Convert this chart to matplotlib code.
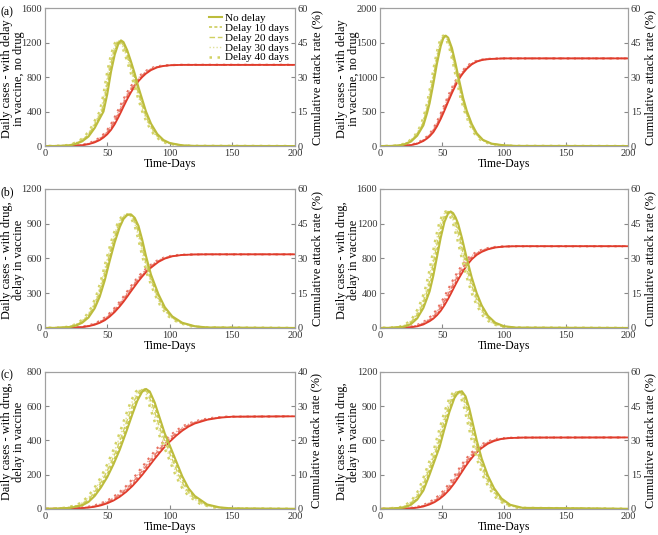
import numpy as np
import matplotlib
matplotlib.use('Agg')
import matplotlib.pyplot as plt

plt.rcParams['font.family'] = ['Liberation Serif', 'DejaVu Serif']
plt.rcParams['font.size'] = 8.5

delay_labels = ['No delay', 'Delay 10 days', 'Delay 20 days', 'Delay 30 days', 'Delay 40 days']

# (a) left: delay in vaccine, no drug
days_a1 = [0, 10, 20, 25, 30, 35, 40, 44, 47, 50, 53, 56, 59, 61, 63, 66, 69, 72, 75, 78, 81, 85, 90, 95, 100, 110, 120, 200]
daily_a1 = [0, 1, 8, 25, 55, 110, 210, 320, 400, 600, 860, 1060, 1190, 1225, 1205, 1110, 980, 840, 680, 540, 400, 260, 140, 70, 35, 8, 2, 0]
cum_a1 = [0, 0, 0.05, 0.15, 0.35, 0.8, 1.6, 2.6, 3.7, 5.1, 7.0, 9.5, 12.6, 14.8, 17.1, 20.4, 23.4, 26.0, 28.2, 30.0, 31.5, 33.0, 34.2, 34.8, 35.1, 35.3, 35.3, 35.3]
shift_a1 = [0, -0.8, -1.5, -2.3, -3]

# (a) right
days_a2 = [0, 10, 15, 20, 25, 30, 35, 38, 40, 43, 46, 49, 51, 53, 55, 58, 61, 63, 65, 67, 70, 74, 78, 83, 90, 100, 110, 200]
daily_a2 = [0, 2, 8, 25, 65, 150, 300, 480, 620, 900, 1200, 1450, 1560, 1600, 1570, 1420, 1190, 1020, 860, 700, 510, 320, 185, 90, 35, 10, 2, 0]
cum_a2 = [0, 0, 0.05, 0.15, 0.4, 1.0, 2.2, 3.3, 4.2, 6.0, 8.6, 11.8, 14.2, 16.7, 19.3, 23.0, 26.4, 28.4, 30.2, 31.7, 33.6, 35.5, 36.7, 37.5, 37.9, 38.1, 38.1, 38.1]
shift_a2 = [0, -0.5, -1, -1.5, -2]

# (b) left: with drug, delay in vaccine
days_b1 = [0, 10, 20, 25, 30, 35, 40, 44, 48, 52, 56, 60, 63, 66, 69, 72, 75, 78, 81, 85, 91, 96, 102, 110, 120, 130, 200]
daily_b1 = [0, 1, 8, 20, 45, 90, 170, 270, 410, 580, 740, 870, 940, 975, 980, 950, 880, 760, 620, 460, 290, 180, 100, 45, 15, 4, 0]
cum_b1 = [0, 0, 0.05, 0.15, 0.35, 0.75, 1.4, 2.2, 3.3, 4.9, 6.9, 9.3, 11.3, 13.5, 15.8, 18.0, 20.2, 22.2, 24.0, 26.0, 28.5, 29.9, 30.9, 31.5, 31.7, 31.75, 31.75]
shift_b1 = [0, -0.8, -1.5, -2.3, -3]

# (b) right
days_b2 = [0, 10, 20, 25, 30, 35, 40, 43, 46, 49, 52, 55, 57, 59, 61, 63, 66, 70, 74, 78, 82, 87, 93, 100, 110, 200]
daily_b2 = [0, 2, 15, 45, 110, 230, 420, 600, 820, 1040, 1220, 1320, 1340, 1320, 1270, 1200, 1040, 800, 580, 400, 260, 140, 60, 20, 4, 0]
cum_b2 = [0, 0, 0.1, 0.3, 0.7, 1.5, 2.9, 4.0, 5.5, 7.4, 9.8, 12.6, 14.6, 16.7, 18.8, 20.8, 23.6, 27.0, 29.6, 31.5, 32.8, 33.9, 34.7, 35.1, 35.25, 35.25]
shift_b2 = [0, -1, -2, -3, -4]

# (c) left
days_c1 = [0, 10, 20, 30, 35, 40, 45, 50, 55, 60, 65, 70, 74, 78, 81, 84, 88, 92, 96, 100, 105, 110, 115, 120, 130, 140, 150, 200]
daily_c1 = [0, 1, 5, 20, 40, 75, 125, 185, 260, 345, 445, 550, 630, 685, 700, 685, 620, 530, 440, 370, 280, 190, 120, 75, 25, 8, 2, 0]
cum_c1 = [0, 0, 0.05, 0.2, 0.35, 0.6, 1.0, 1.6, 2.4, 3.5, 4.9, 6.6, 8.2, 9.9, 11.3, 12.7, 14.6, 16.4, 18.1, 19.6, 21.3, 22.8, 24.0, 24.9, 26.0, 26.6, 26.9, 27.0]
shift_c1 = [0, -1.2, -2.5, -3.8, -5]

# (c) right
days_c2 = [0, 10, 20, 25, 30, 35, 40, 44, 48, 52, 56, 60, 63, 66, 69, 72, 75, 78, 82, 87, 92, 98, 105, 115, 200]
daily_c2 = [0, 2, 12, 35, 80, 160, 300, 420, 540, 700, 850, 970, 1020, 1030, 985, 880, 740, 600, 440, 290, 180, 90, 35, 8, 0]
cum_c2 = [0, 0, 0.05, 0.2, 0.5, 1.0, 1.9, 2.9, 4.3, 6.1, 8.4, 11.2, 13.6, 16.1, 18.6, 20.9, 22.9, 24.7, 26.6, 28.5, 29.7, 30.6, 31.0, 31.2, 31.25]
shift_c2 = [0, -1, -2, -3, -4]

panels = [
    (days_a1, daily_a1, cum_a1, shift_a1, [0, 400, 800, 1200, 1600], [0, 15, 30, 45, 60], 'Daily cases - with delay\nin vaccine, no drug', '(a)'),
    (days_a2, daily_a2, cum_a2, shift_a2, [0, 500, 1000, 1500, 2000], [0, 15, 30, 45, 60], 'Daily cases - with delay\nin vaccine, no drug', ''),
    (days_b1, daily_b1, cum_b1, shift_b1, [0, 300, 600, 900, 1200], [0, 15, 30, 45, 60], 'Daily cases - with drug,\ndelay in vaccine', '(b)'),
    (days_b2, daily_b2, cum_b2, shift_b2, [0, 400, 800, 1200, 1600], [0, 15, 30, 45, 60], 'Daily cases - with drug,\ndelay in vaccine', ''),
    (days_c1, daily_c1, cum_c1, shift_c1, [0, 200, 400, 600, 800], [0, 10, 20, 30, 40], 'Daily cases - with drug,\ndelay in vaccine', '(c)'),
    (days_c2, daily_c2, cum_c2, shift_c2, [0, 300, 600, 900, 1200], [0, 15, 30, 45, 60], 'Daily cases - with drug,\ndelay in vaccine', ''),
]

# axes boxes in figure fractions: left, bottom, width, height
boxes = [
    (0.068, 0.727, 0.380, 0.258), (0.5775, 0.727, 0.377, 0.258),
    (0.068, 0.387, 0.380, 0.260), (0.5775, 0.387, 0.377, 0.260),
    (0.068, 0.049, 0.380, 0.256), (0.5775, 0.049, 0.377, 0.256),
]

yel_styles = [
    dict(color='#bcbc3c', ls='-', lw=1.5),
    dict(color='#c9c950', ls=(0, (2, 1.5)), lw=1.1),
    dict(color='#d0d060', ls=(0, (4, 2)), lw=1.0),
    dict(color='#e0e09a', ls=(0, (1, 1.5)), lw=1.0),
    dict(color='#d2d264', ls=(0, (1, 2.2)), lw=1.8),
]
red_styles = [
    dict(color='#e03c2c', ls='-', lw=1.3),
    dict(color='#e56a5a', ls=(0, (2, 1.5)), lw=1.0),
    dict(color='#e87c6c', ls=(0, (4, 2)), lw=1.0),
    dict(color='#f0aaa0', ls=(0, (1, 1.5)), lw=1.0),
    dict(color='#e87060', ls=(0, (1, 2.2)), lw=1.6),
]

fig = plt.figure(figsize=(6.58, 5.35), dpi=100)

for i, (days, daily, cum, shift, lticks, rticks, ylab, tag) in enumerate(panels):
    ax = fig.add_axes(boxes[i])
    ax2 = ax.twinx()
    d = np.array(days, dtype=float)
    for k in range(4, -1, -1):
        ax.plot(d + shift[k], daily, label=delay_labels[k], **yel_styles[k])
        ax2.plot(d + shift[k], cum, **red_styles[k])
    ax.set_zorder(ax2.get_zorder() + 1)
    ax.patch.set_visible(False)
    ax.set_xlim(0, 200)
    ax.set_ylim(0, lticks[-1])
    ax2.set_ylim(0, rticks[-1])
    ax.set_xticks([0, 50, 100, 150, 200])
    ax.set_yticks(lticks)
    ax2.set_yticks(rticks)
    ax.set_xlabel('Time-Days', fontsize=8.5, labelpad=0)
    ax.set_ylabel(ylab, fontsize=8.8, linespacing=1.0, va='center')
    ax.yaxis.set_label_coords(-0.127, 0.49)
    ax2.set_ylabel('Cumulative attack rate (%)', fontsize=9, labelpad=2)
    for a in (ax, ax2):
        a.tick_params(direction='in', length=3, labelsize=7.5, pad=2, color='#888888', labelcolor='#333333')
        for s in a.spines.values():
            s.set_color('#a0a0a0')
            s.set_linewidth(0.8)
    if tag:
        ax.text(-0.175, 1.015, tag, transform=ax.transAxes, fontsize=8.5, va='top', ha='left')
    if i == 0:
        h, l = ax.get_legend_handles_labels()
        ax.legend(h[::-1], l[::-1], loc='upper right', frameon=False, fontsize=8,
                  handlelength=1.2, handletextpad=0.3, labelspacing=0.0,
                  borderaxespad=0.1)

plt.savefig('out.png', dpi=100)
